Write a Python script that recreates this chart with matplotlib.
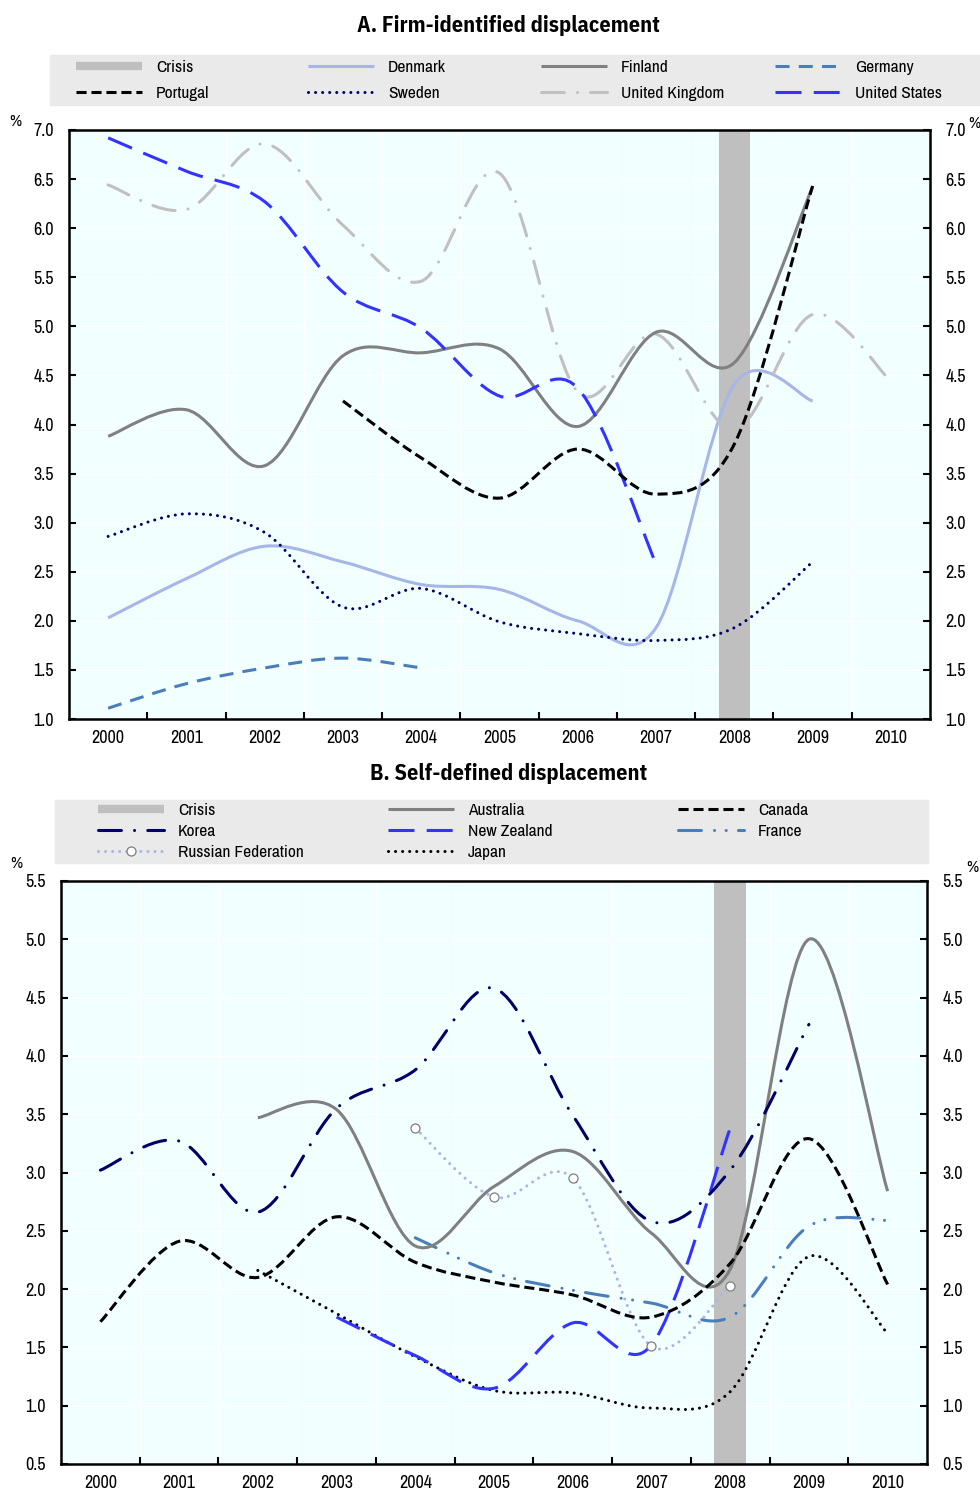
import numpy as np
import matplotlib
matplotlib.use("Agg")
import matplotlib.pyplot as plt
from matplotlib.path import Path
from matplotlib.patches import PathPatch, Rectangle
from matplotlib.lines import Line2D
from matplotlib.ticker import FormatStrFormatter
from matplotlib import font_manager

installed = {f.name for f in font_manager.fontManager.ttflist}
if "Archivo Narrow" in installed:
    plt.rcParams["font.family"] = ["Archivo Narrow", "DejaVu Sans"]
else:
    plt.rcParams["font.family"] = ["DejaVu Sans"]
    plt.rcParams["font.stretch"] = "condensed"
TITLE_FONT = [f for f in ("IBM Plex Sans Condensed", "Fira Sans Condensed") if f in installed]
TITLE_FONT = TITLE_FONT + ["DejaVu Sans"]

# ---------------------------------------------------------------- data
years = list(range(2000, 2011))
crisis_span = (2007.8, 2008.2)

# Panel A: firm-identified displacement (%)
portugal_years = list(range(2003, 2010))
portugal = [4.24, 3.66, 3.25, 3.75, 3.29, 3.80, 6.43]
denmark_years = list(range(2000, 2010))
denmark = [2.03, 2.43, 2.76, 2.60, 2.37, 2.32, 2.00, 1.93, 4.41, 4.24]
sweden_years = list(range(2000, 2010))
sweden = [2.86, 3.09, 2.90, 2.14, 2.33, 1.99, 1.87, 1.80, 1.93, 2.60]
finland_years = list(range(2000, 2010))
finland = [3.88, 4.15, 3.58, 4.70, 4.73, 4.77, 3.98, 4.94, 4.63, 6.42]
uk_years = list(range(2000, 2011))
uk = [6.44, 6.19, 6.86, 6.03, 5.46, 6.56, 4.33, 4.92, 3.95, 5.12, 4.44]
germany_years = list(range(2000, 2005))
germany = [1.11, 1.36, 1.52, 1.62, 1.52]
us_years = list(range(2000, 2008))
us = [6.92, 6.58, 6.27, 5.35, 4.98, 4.29, 4.37, 2.58]

# Panel B: self-defined displacement (%)
australia_years = list(range(2002, 2011))
australia = [3.47, 3.54, 2.37, 2.88, 3.18, 2.48, 2.17, 5.00, 2.84]
canada_years = list(range(2000, 2011))
canada = [1.72, 2.41, 2.10, 2.62, 2.23, 2.06, 1.95, 1.76, 2.22, 3.29, 2.04]
korea_years = list(range(2000, 2010))
korea = [3.02, 3.27, 2.66, 3.55, 3.88, 4.58, 3.49, 2.58, 3.02, 4.27]
nz_years = list(range(2003, 2009))
new_zealand = [1.76, 1.43, 1.15, 1.71, 1.52, 3.38]
france_years = list(range(2004, 2011))
france = [2.44, 2.14, 1.99, 1.88, 1.76, 2.54, 2.59]
russia_years = list(range(2004, 2009))
russia = [3.38, 2.79, 2.95, 1.51, 2.03]
japan_years = list(range(2002, 2011))
japan = [2.16, 1.79, 1.42, 1.13, 1.11, 0.98, 1.12, 2.28, 1.62]

# ---------------------------------------------------------------- styles
C_LIGHT = "#A6B6E6"
C_GREY = "#808080"
C_STEEL = "#4A7EBB"
C_SILVER = "#C0C0C0"
C_BLUE = "#3333FF"
C_NAVY = "#000066"
C_BLACK = "#000000"
C_CRISIS = "#BFBFBF"
BG = "#F2FFFF"
LEGEND_BG = "#EAEAEA"

LW = 2.2
SOLID = ("-", "butt")
SHORT_DASH = ((0, (3.3, 1.6)), "butt")
MED_DASH = ((0, (4.6, 3.0)), "butt")
LONG_DASH = ((0, (8.5, 4.0)), "butt")
DASH_DOT = ((0, (7.5, 4.3, 0.01, 4.3)), "round")
DASH_DOT_DOT = ((0, (7.5, 4.3, 0.01, 3.8, 0.01, 4.0)), "round")
DOTTED = ((0, (0.01, 2.3)), "round")

FS = 12.5
TICK_FS = 13
W, H = 980, 1490


def fx(px):
    return px / W


def fy(py):
    return 1 - py / H


def smooth_path(x, y):
    """Cubic Bezier path through the points (smoothed line)."""
    pts = np.column_stack([x, y]).astype(float)
    n = len(pts)
    verts = [pts[0]]
    codes = [Path.MOVETO]
    for i in range(n - 1):
        p0 = pts[i - 1] if i > 0 else pts[i]
        p1, p2 = pts[i], pts[i + 1]
        p3 = pts[i + 2] if i + 2 < n else pts[i + 1]
        verts += [p1 + (p2 - p0) / 6, p2 - (p3 - p1) / 6, p2]
        codes += [Path.CURVE4] * 3
    return Path(verts, codes)


def draw_series(ax, x, y, color, style, lw=LW):
    ls, cap = style
    patch = PathPatch(smooth_path(x, y), fill=False, edgecolor=color, lw=lw,
                      linestyle=ls, capstyle=cap, joinstyle="round", zorder=3)
    ax.add_patch(patch)


def handle(color, style, lw=LW, **kw):
    ls, cap = style
    return Line2D([], [], color=color, lw=lw, linestyle=ls,
                  dash_capstyle=cap, solid_capstyle="butt", **kw)


def style_axes(ax, ylo, yhi):
    ax.set_facecolor(BG)
    ax.set_xlim(1999.5, 2010.5)
    ax.set_ylim(ylo, yhi)
    ax.set_xticks(np.arange(2000.5, 2010, 1.0))
    ax.set_xticks(years, minor=True)
    ax.set_xticklabels([str(y) for y in years], minor=True)
    ax.tick_params(axis="x", which="major", direction="in", length=5, width=1.5,
                   labelbottom=False)
    ax.tick_params(axis="x", which="minor", length=0, pad=8, labelsize=TICK_FS)
    ax.set_yticks(np.arange(ylo, yhi + 0.01, 0.5))
    ax.yaxis.set_major_formatter(FormatStrFormatter("%.1f"))
    ax.tick_params(axis="y", direction="in", length=5, width=1.5, left=True,
                   right=True, labelleft=True, labelright=True,
                   labelsize=TICK_FS, pad=11)
    ax.grid(True, which="major", color="white", lw=0.9)
    ax.set_axisbelow(True)
    for s in ax.spines.values():
        s.set_linewidth(1.8)
        s.set_color("black")
    ax.axvspan(*crisis_span, color=C_CRISIS, lw=0, zorder=1)


def column_legend(fig, entries, x_px, center_px, spacing):
    hs = [e[0] for e in entries]
    ls = [e[1] for e in entries]
    return fig.legend(hs, ls, loc="center left",
                      bbox_to_anchor=(fx(x_px), fy(center_px)),
                      bbox_transform=fig.transFigure, frameon=False,
                      borderpad=0, borderaxespad=0, handletextpad=0.8,
                      handlelength=3.8, labelspacing=spacing, fontsize=FS,
                      numpoints=1)


fig = plt.figure(figsize=(W / 100, H / 100), dpi=100)

# ---------------------------------------------------------------- panel A
axA = fig.add_axes([fx(69), fy(719), fx(930 - 69), (719 - 130) / H])
style_axes(axA, 1.0, 7.0)
draw_series(axA, germany_years, germany, C_STEEL, MED_DASH)
draw_series(axA, denmark_years, denmark, C_LIGHT, SOLID)
draw_series(axA, sweden_years, sweden, C_NAVY, DOTTED)
draw_series(axA, uk_years, uk, C_SILVER, DASH_DOT)
draw_series(axA, finland_years, finland, C_GREY, SOLID)
draw_series(axA, us_years, us, C_BLUE, LONG_DASH)
draw_series(axA, portugal_years, portugal, C_BLACK, SHORT_DASH)

fig.text(fx(508), fy(25), "A. Firm-identified displacement", ha="center",
         va="center", fontsize=16, fontweight="bold", family=TITLE_FONT)
fig.patches.append(Rectangle((fx(50), fy(105)), fx(930), 50 / H,
                             transform=fig.transFigure, color=LEGEND_BG, zorder=0))
legA_cols = [
    (76, [(Line2D([], [], color=C_CRISIS, lw=6, solid_capstyle="butt"), "Crisis"),
          (handle(C_BLACK, SHORT_DASH), "Portugal")]),
    (308, [(handle(C_LIGHT, SOLID), "Denmark"), (handle(C_NAVY, DOTTED), "Sweden")]),
    (541, [(handle(C_GREY, SOLID), "Finland"), (handle(C_SILVER, DASH_DOT), "United Kingdom")]),
    (775, [(handle(C_STEEL, MED_DASH), "Germany"), (handle(C_BLUE, LONG_DASH), "United States")]),
]
for x_px, entries in legA_cols:
    column_legend(fig, entries, x_px, 80.5, 0.58)

fig.text(fx(15), fy(121), "%", ha="center", va="center", fontsize=12)
fig.text(fx(974), fy(124), "%", ha="center", va="center", fontsize=12)

# ---------------------------------------------------------------- panel B
axB = fig.add_axes([fx(61), fy(1464), fx(927 - 61), (1464 - 881) / H])
style_axes(axB, 0.5, 5.5)
draw_series(axB, russia_years, russia, C_LIGHT, DOTTED)
axB.plot(russia_years, russia, linestyle="none", marker="o", ms=6.5,
         mfc="white", mec="#7F7F7F", mew=0.9, zorder=4)
draw_series(axB, france_years, france, C_STEEL, DASH_DOT_DOT)
draw_series(axB, japan_years, japan, C_BLACK, DOTTED)
draw_series(axB, nz_years, new_zealand, C_BLUE, LONG_DASH)
draw_series(axB, australia_years, australia, C_GREY, SOLID)
draw_series(axB, canada_years, canada, C_BLACK, SHORT_DASH)
draw_series(axB, korea_years, korea, C_NAVY, DASH_DOT)

fig.text(fx(509), fy(773), "B. Self-defined displacement", ha="center",
         va="center", fontsize=16, fontweight="bold", family=TITLE_FONT)
fig.patches.append(Rectangle((fx(55), fy(863)), fx(928 - 55), 63 / H,
                             transform=fig.transFigure, color=LEGEND_BG, zorder=0))
russia_h = handle(C_LIGHT, DOTTED, marker="o", ms=6.5, mfc="white",
                  mec="#7F7F7F", mew=0.9)
legB_cols = [
    (98, 831.5, [(Line2D([], [], color=C_CRISIS, lw=6, solid_capstyle="butt"), "Crisis"),
                 (handle(C_NAVY, DASH_DOT), "Korea"),
                 (russia_h, "Russian Federation")]),
    (388, 831.5, [(handle(C_GREY, SOLID), "Australia"),
                  (handle(C_BLUE, LONG_DASH), "New Zealand"),
                  (handle(C_BLACK, DOTTED), "Japan")]),
    (678, 821.0, [(handle(C_BLACK, SHORT_DASH), "Canada"),
                  (handle(C_STEEL, DASH_DOT_DOT), "France")]),
]
for x_px, c_px, entries in legB_cols:
    column_legend(fig, entries, x_px, c_px, 0.36)

fig.text(fx(16), fy(864), "%", ha="center", va="center", fontsize=12)
fig.text(fx(972), fy(867), "%", ha="center", va="center", fontsize=12)

fig.savefig("out.png", dpi=100, facecolor="white")
